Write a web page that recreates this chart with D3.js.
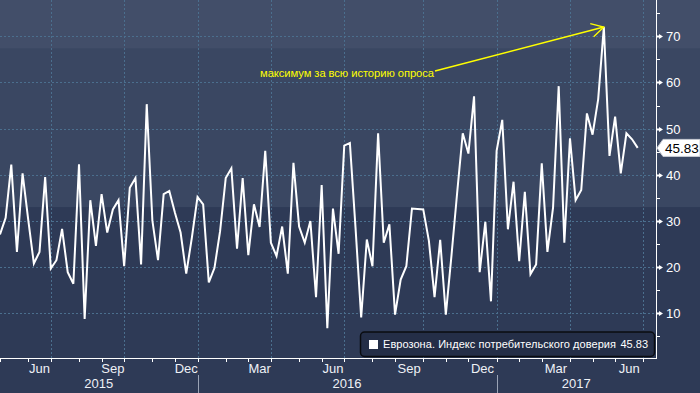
<!DOCTYPE html>
<html><head><meta charset="utf-8">
<script src="https://cdn.jsdelivr.net/npm/d3@7"></script>
<style>
html,body{margin:0;padding:0;background:#2e3a56;}
svg{display:block;font-family:"Liberation Sans",Arial,sans-serif;}
</style></head>
<body>
<script>
// Weekly survey values (Fridays from 2015-05-01 to 2017-06-30)
const startDate = new Date(2015, 4, 1);
const values = [
27.1,30.7,42.2,23.3,40.3,30.3,20.8,23.3,39.5,19.7,
21.5,28.3,18.9,16.4,42.3,8.8,34.5,24.6,35.8,27.5,
32.5,34.5,20.2,37.2,39.3,20.6,55.3,30.1,21.5,35.8,
36.5,31.8,27.5,18.6,26.4,35.2,33.6,16.7,19.8,27.8,
39.3,41.4,24.0,39.3,22.6,33.6,28.7,45.2,25.3,22.4,
28.8,18.6,42.6,28.8,25.3,30.0,13.5,37.8,6.8,32.7,
22.9,46.3,46.9,28.5,9.1,26.0,20.2,49.0,25.3,29.3,
9.7,17.3,20.2,32.7,32.6,32.5,25.7,13.5,25.9,9.7,
22.5,36.0,49.0,44.6,57.0,18.9,29.8,12.6,45.2,51.9,
28.2,38.5,21.3,36.3,18.5,20.6,42.5,23.3,32.9,59.2,
25.3,47.9,34.5,36.7,53.3,48.7,56.4,72.0,44.1,52.6,
40.3,49.0,47.7,45.83];
const yTicks = [10,20,30,40,50,60,70];
const yMinor = [5,15,25,35,45,55,65,75];
const monthNames = ["Jan","Feb","Mar","Apr","May","Jun","Jul","Aug","Sep","Oct","Nov","Dec"];
const labelMonths = [2,5,8,11]; // Mar, Jun, Sep, Dec
const gridMonths = [0,3,6,9];   // quarter starts
const seriesName = "Еврозона. Индекс потребительского доверия";
const lastLabel = "45.83";
const annotationText = "максимум за всю историю опроса";

const W = 700, H = 393;
const plotRight = 656, plotBottom = 358;
const svg = d3.select("body").append("svg").attr("width", W).attr("height", H);

const x = d3.scaleLinear().domain([0, values.length - 1]).range([0, 637.7]);
const y = d3.scaleLinear().domain([0, 70]).range([359.5, 36.3]);

// background bands
svg.append("rect").attr("x",0).attr("y",0).attr("width",W).attr("height",H).attr("fill","#2e3a56");
svg.append("rect").attr("x",0).attr("y",0).attr("width",W).attr("height",y(33)).attr("fill","#3a4762");
svg.append("rect").attr("x",0).attr("y",0).attr("width",W).attr("height",y(67.4)).attr("fill","#424e69");

// date for each index (extended for ticks)
const dateOf = i => new Date(startDate.getFullYear(), startDate.getMonth(), startDate.getDate() + 7*i);
const monthStarts = [];
for (let i = 0; i <= 114; i++) {
  const d = dateOf(i), p = dateOf(i-1);
  if (i === 0 || d.getMonth() !== p.getMonth()) monthStarts.push({i, d});
}

const grid = svg.append("g").attr("stroke","#4b6f8e").attr("stroke-width",1).attr("stroke-dasharray","2,2");
yTicks.forEach(t => grid.append("line").attr("x1",0).attr("x2",plotRight).attr("y1",Math.round(y(t))+0.5).attr("y2",Math.round(y(t))+0.5));
monthStarts.filter(m => gridMonths.includes(m.d.getMonth()) && m.i > 0).forEach(m => {
  const xx = Math.round(x(m.i)) + 0.5;
  grid.append("line").attr("x1",xx).attr("x2",xx).attr("y1",0).attr("y2",plotBottom);
});

// axes lines
svg.append("line").attr("x1",0).attr("x2",plotRight).attr("y1",plotBottom+0.5).attr("y2",plotBottom+0.5).attr("stroke","#ffffff");
svg.append("line").attr("x1",plotRight+0.5).attr("x2",plotRight+0.5).attr("y1",0).attr("y2",plotBottom+1).attr("stroke","#ffffff");

// x ticks
monthStarts.forEach(m => {
  const xx = Math.round(x(m.i)) + 0.5;
  if (xx > plotRight) return;
  svg.append("line").attr("x1",xx).attr("x2",xx).attr("y1",plotBottom).attr("y2",plotBottom+4).attr("stroke","#ffffff");
});
// month labels centered between month starts
for (let k = 0; k < monthStarts.length - 1; k++) {
  const m = monthStarts[k], n = monthStarts[k+1];
  if (!labelMonths.includes(m.d.getMonth())) continue;
  svg.append("text").attr("x",(x(m.i)+x(n.i))/2).attr("y",368).attr("dy","0.35em")
    .attr("text-anchor","middle").attr("font-size",13).attr("fill","#eef1f6").text(monthNames[m.d.getMonth()]);
}
// years
const yearStarts = monthStarts.filter(m => m.d.getMonth() === 0);
const yearBounds = [{i:0, yr:2015}].concat(yearStarts.map(m => ({i:m.i, yr:m.d.getFullYear()})));
yearBounds.forEach((b, k) => {
  const x0 = x(b.i), x1 = k < yearBounds.length-1 ? x(yearBounds[k+1].i) : plotRight;
  svg.append("text").attr("x",(x0+x1)/2).attr("y",383).attr("dy","0.35em").attr("text-anchor","middle")
    .attr("font-size",13).attr("fill","#eef1f6").text(b.yr);
});
yearStarts.forEach(m => {
  const xx = Math.round(x(m.i)) + 0.5;
  svg.append("line").attr("x1",xx).attr("x2",xx).attr("y1",375).attr("y2",393).attr("stroke","#9aa3b5");
});

// right axis ticks
yMinor.forEach(t => svg.append("line").attr("x1",plotRight).attr("x2",plotRight+4).attr("y1",Math.round(y(t))+0.5).attr("y2",Math.round(y(t))+0.5).attr("stroke","#ffffff"));
yTicks.forEach(t => {
  const yy = Math.round(y(t)) + 0.5;
  svg.append("path").attr("d",`M${plotRight},${yy-1}L${plotRight+3},${yy-1}L${plotRight+3},${yy-2.5}L${plotRight+7},${yy}L${plotRight+3},${yy+2.5}L${plotRight+3},${yy+1}L${plotRight},${yy+1}Z`).attr("fill","#ffffff");
  svg.append("text").attr("x",666).attr("y",yy).attr("dy","0.36em").attr("font-size",13).attr("fill","#ffffff").text(t);
});

// data line
svg.append("path").datum(values)
  .attr("d", d3.line().x((d,i)=>x(i)).y(d=>y(d)))
  .attr("fill","none").attr("stroke","#ffffff").attr("stroke-width",2).attr("stroke-linejoin","miter");

// annotation
const peakI = values.indexOf(d3.max(values));
const px = x(peakI), py = y(values[peakI]);
const ax = 435, ay = 71;
svg.append("line").attr("x1",ax).attr("y1",ay).attr("x2",px).attr("y2",py).attr("stroke","#ffff00").attr("stroke-width",1.5);
const ang = Math.atan2(py-ay, px-ax);
const hl = 14, ha = 0.5;
svg.append("path").attr("d",`M${px-hl*Math.cos(ang-ha)},${py-hl*Math.sin(ang-ha)}L${px},${py}L${px-hl*Math.cos(ang+ha)},${py-hl*Math.sin(ang+ha)}`)
  .attr("fill","none").attr("stroke","#ffff00").attr("stroke-width",1.3);
svg.append("text").attr("x",260).attr("y",73.5).attr("dy","0.35em")
  .attr("font-size",11.2).attr("textLength",174).attr("lengthAdjust","spacing")
  .attr("fill","#ffff00").text(annotationText);

// last value tag
const ly = y(values[values.length-1]);
svg.append("path").attr("d",`M${plotRight+1},${ly}L${663},${ly-8.5}L700,${ly-8.5}L700,${ly+8.5}L663,${ly+8.5}Z`).attr("fill","#ffffff").attr("stroke","#c8ccd4");
svg.append("text").attr("x",665).attr("y",ly).attr("dy","0.36em").attr("font-size",13.5).attr("fill","#000000").text(lastLabel);

// legend
const lg = svg.append("g");
lg.append("rect").attr("x",360.5).attr("y",332).attr("width",294).attr("height",24.5).attr("rx",4)
  .attr("fill","#242e47").attr("stroke","#0a0c10").attr("stroke-width",1.5);
lg.append("rect").attr("x",369).attr("y",340).attr("width",9).attr("height",9).attr("fill","#ffffff");
lg.append("text").attr("x",383).attr("y",344.5).attr("dy","0.35em").attr("font-size",11)
  .attr("textLength",233).attr("lengthAdjust","spacing").attr("fill","#ffffff").text(seriesName);
lg.append("text").attr("x",648).attr("y",344.5).attr("dy","0.35em").attr("font-size",11)
  .attr("text-anchor","end").attr("fill","#ffffff").text(lastLabel);
</script>
</body></html>
